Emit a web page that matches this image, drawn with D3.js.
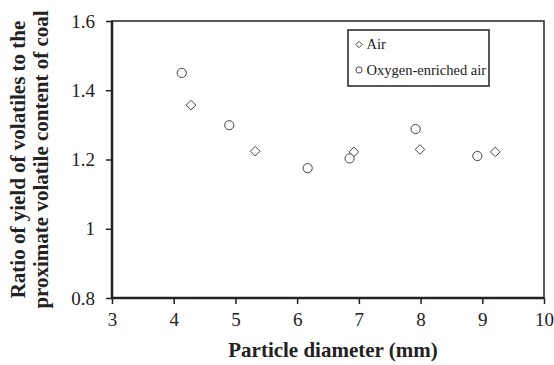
<!DOCTYPE html>
<html>
<head>
<meta charset="utf-8">
<script src="https://cdn.jsdelivr.net/npm/d3@7"></script>
<style>
  body { margin: 0; background: #fff; }
  svg { display: block; }
</style>
</head>
<body>
<div class="chart"></div>
<script>
// data
const airX = [4.28, 5.32, 6.92, 7.99, 9.21];
const airY = [1.357, 1.224, 1.222, 1.229, 1.222];
const oxyX = [4.13, 4.90, 6.17, 6.85, 7.92, 8.92];
const oxyY = [1.450, 1.299, 1.175, 1.203, 1.288, 1.210];
const xTicks = [3, 4, 5, 6, 7, 8, 9, 10];
const yTicks = [0.8, 1, 1.2, 1.4, 1.6];
const seriesNames = ['Air', 'Oxygen-enriched air'];

const width = 554, height = 365;
const margin = { top: 21, right: 10, bottom: 67, left: 112 };
const ink = '#222';
const serif = 'Liberation Serif';

const svg = d3.select('.chart').append('svg')
    .attr('width', width)
    .attr('height', height);

const x = d3.scaleLinear().domain([3, 10]).range([margin.left, width - margin.right]);
const y = d3.scaleLinear().domain([0.8, 1.6]).range([height - margin.bottom, margin.top]);

// axes
const xAxis = svg.append('g')
    .attr('transform', `translate(0,${y(0.8)})`)
    .call(d3.axisBottom(x).tickValues(xTicks).tickSize(6).tickSizeOuter(0).tickPadding(9).tickFormat(d3.format('d')));

const yAxis = svg.append('g')
    .attr('transform', `translate(${x(3)},0)`)
    .call(d3.axisLeft(y).tickValues(yTicks).tickSize(6).tickSizeOuter(0).tickPadding(11).tickFormat(d => d === 1 ? '1' : d3.format('.1f')(d)));

[xAxis, yAxis].forEach(g => {
    g.attr('font-family', serif).attr('font-size', 19);
    g.select('.domain').remove();
    g.selectAll('line').attr('stroke', ink).attr('stroke-width', 1.5);
    g.selectAll('text').attr('fill', ink).attr('font-family', serif);
});

// frame: thin top/right, heavier left/bottom
svg.append('rect')
    .attr('x', x(3)).attr('y', y(1.6))
    .attr('width', x(10) - x(3)).attr('height', y(0.8) - y(1.6))
    .attr('fill', 'none').attr('stroke', ink).attr('stroke-width', 1.5);
svg.append('path')
    .attr('d', `M${x(3)},${y(1.6)}V${y(0.8)}H${x(10)}`)
    .attr('fill', 'none').attr('stroke', ink).attr('stroke-width', 2.5);

// markers
const diamond = r => `M0,${-r}L${r},0L0,${r}L${-r},0Z`;
const markStroke = '#444';

svg.append('g').selectAll('path')
    .data(d3.zip(airX, airY))
    .join('path')
    .attr('transform', d => `translate(${x(d[0])},${y(d[1])})`)
    .attr('d', diamond(4.8))
    .attr('fill', '#fff').attr('stroke', markStroke).attr('stroke-width', 1);

svg.append('g').selectAll('circle')
    .data(d3.zip(oxyX, oxyY))
    .join('circle')
    .attr('cx', d => x(d[0])).attr('cy', d => y(d[1]))
    .attr('r', 4.6)
    .attr('fill', '#fff').attr('stroke', markStroke).attr('stroke-width', 1);

// legend
const legend = svg.append('g').attr('transform', 'translate(348,30)');
legend.append('rect')
    .attr('width', 141).attr('height', 56)
    .attr('fill', '#fff').attr('stroke', ink).attr('stroke-width', 1.5);

const rows = legend.selectAll('g.row')
    .data(seriesNames)
    .join('g')
    .attr('class', 'row')
    .attr('transform', (d, i) => `translate(11,${14.5 + i * 25.5})`);

rows.filter((d, i) => i === 0).append('path')
    .attr('d', diamond(3.2))
    .attr('fill', '#fff').attr('stroke', markStroke).attr('stroke-width', 1);
rows.filter((d, i) => i === 1).append('circle')
    .attr('r', 3.1)
    .attr('fill', '#fff').attr('stroke', markStroke).attr('stroke-width', 1);

rows.append('text')
    .attr('x', 7.5).attr('dy', '0.33em')
    .attr('fill', ink)
    .attr('font-family', serif)
    .attr('font-size', 14.5)
    .text(d => d);

// axis titles
svg.append('text')
    .attr('x', (x(3) + x(10)) / 2 + 5).attr('y', 357)
    .attr('text-anchor', 'middle')
    .attr('fill', ink)
    .attr('font-family', serif)
    .attr('font-size', 21).attr('font-weight', 'bold')
    .text('Particle diameter (mm)');

const yTitle = svg.append('text')
    .attr('transform', `translate(0,${(y(0.8) + y(1.6)) / 2}) rotate(-90)`)
    .attr('text-anchor', 'middle')
    .attr('fill', ink)
    .attr('font-family', serif)
    .attr('font-size', 21).attr('font-weight', 'bold');
yTitle.append('tspan').attr('x', 0).attr('y', 25).text('Ratio of yield of volatiles to the');
yTitle.append('tspan').attr('x', 0).attr('y', 48).text('proximate volatile content of coal');
</script>
</body>
</html>
